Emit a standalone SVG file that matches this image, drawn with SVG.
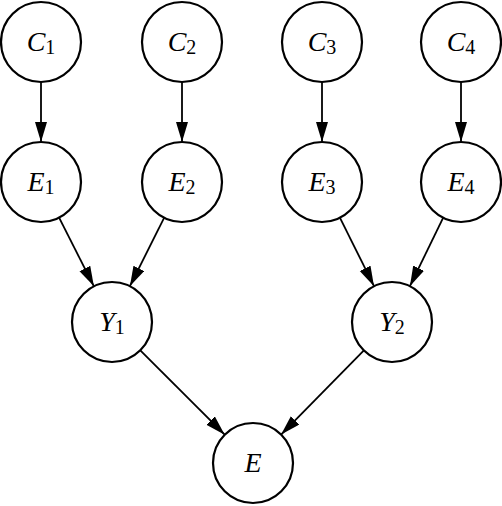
<svg xmlns="http://www.w3.org/2000/svg" width="502" height="506" viewBox="0 0 502 506">
<style>
.node circle{fill:#fff;stroke:#000;stroke-width:2.2}
.lbl{font-family:"Liberation Serif","DejaVu Serif",serif;font-size:28px;text-anchor:middle;fill:#000}
.v{font-style:italic}
.s{font-size:20px}
.edges line{stroke:#000;stroke-width:1.8;marker-end:url(#ah)}
</style>
<defs>
<marker id="ah" markerUnits="userSpaceOnUse" markerWidth="22" markerHeight="14" refX="20" refY="6" orient="auto">
<path d="M0,0 L20,6 L0,12 z" fill="#000"/>
</marker>
</defs>
<rect width="502" height="506" fill="#fff"/>
<g class="edges">
<line x1="41" y1="82" x2="41" y2="142"/>
<line x1="182" y1="82" x2="182" y2="142"/>
<line x1="322" y1="82" x2="322" y2="142"/>
<line x1="461" y1="82" x2="461" y2="142"/>
<line x1="59.1" y1="217.7" x2="93.9" y2="286.3"/>
<line x1="164.1" y1="217.8" x2="129.9" y2="286.2"/>
<line x1="340" y1="217.8" x2="374" y2="286.2"/>
<line x1="443.1" y1="217.8" x2="409.9" y2="286.2"/>
<line x1="140.3" y1="350.3" x2="224.7" y2="434.7"/>
<line x1="363.9" y1="350.4" x2="281.1" y2="434.6"/>
</g>
<g id="C1" class="node"><circle cx="41" cy="42" r="40"/><text class="lbl" x="41" y="51"><tspan class="v">C</tspan><tspan class="s" dy="3">1</tspan></text></g>
<g id="C2" class="node"><circle cx="182" cy="42" r="40"/><text class="lbl" x="182" y="51"><tspan class="v">C</tspan><tspan class="s" dy="3">2</tspan></text></g>
<g id="C3" class="node"><circle cx="322" cy="42" r="40"/><text class="lbl" x="322" y="51"><tspan class="v">C</tspan><tspan class="s" dy="3">3</tspan></text></g>
<g id="C4" class="node"><circle cx="461" cy="42" r="40"/><text class="lbl" x="461" y="51"><tspan class="v">C</tspan><tspan class="s" dy="3">4</tspan></text></g>
<g id="E1" class="node"><circle cx="41" cy="182" r="40"/><text class="lbl" x="41" y="191"><tspan class="v">E</tspan><tspan class="s" dy="3">1</tspan></text></g>
<g id="E2" class="node"><circle cx="182" cy="182" r="40"/><text class="lbl" x="182" y="191"><tspan class="v">E</tspan><tspan class="s" dy="3">2</tspan></text></g>
<g id="E3" class="node"><circle cx="322" cy="182" r="40"/><text class="lbl" x="322" y="191"><tspan class="v">E</tspan><tspan class="s" dy="3">3</tspan></text></g>
<g id="E4" class="node"><circle cx="461" cy="182" r="40"/><text class="lbl" x="461" y="191"><tspan class="v">E</tspan><tspan class="s" dy="3">4</tspan></text></g>
<g id="Y1" class="node"><circle cx="112" cy="322" r="40"/><text class="lbl" x="112" y="331"><tspan class="v">Y</tspan><tspan class="s" dy="3">1</tspan></text></g>
<g id="Y2" class="node"><circle cx="392" cy="322" r="40"/><text class="lbl" x="392" y="331"><tspan class="v">Y</tspan><tspan class="s" dy="3">2</tspan></text></g>
<g id="E" class="node"><circle cx="253" cy="463" r="40"/><text class="lbl" x="253" y="472"><tspan class="v">E</tspan></text></g>
</svg>
